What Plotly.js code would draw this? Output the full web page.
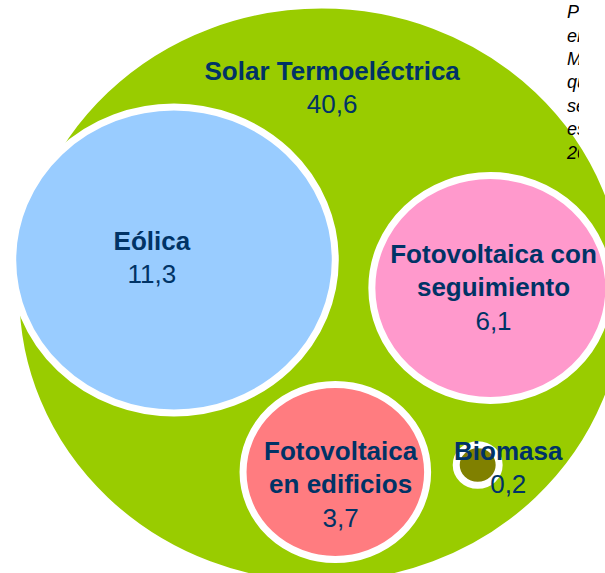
<!DOCTYPE html>
<html>
<head>
<meta charset="utf-8">
<script src="https://cdn.plot.ly/plotly-3.0.1.min.js"></script>
<style>
  html, body { margin: 0; padding: 0; background: #ffffff; overflow: hidden; }
  #chart { width: 605px; height: 573px; }
</style>
</head>
<body>
<div id="chart"></div>
<script>
// ---- data ----
const categories = ['Solar Termoeléctrica', 'Eólica', 'Fotovoltaica con seguimiento', 'Fotovoltaica en edificios', 'Biomasa'];
const labelLines = ['Solar Termoeléctrica', 'Eólica', 'Fotovoltaica con<br>seguimiento', 'Fotovoltaica<br>en edificios', 'Biomasa'];
const values = [40.6, 11.3, 6.1, 3.7, 0.2];
const noteLines = ['Potencia', 'en', 'MW', 'que', 'se', 'espera en', '2020'];

// ---- layout of the bubbles (positions, not data) ----
const centerX = [305, 165, 465, 318, 453];
const centerY = [295, 260, 288, 472, 465];
const labelX = [315, 144, 468, 323, 482];
const labelY = [90, 260, 290, 487, 470];

// ---- styles ----
const colors = ['#99cc00', '#99ccff', '#ff99cc', '#ff7c80', '#808000'];
const textColor = '#003366';
const fontFamily = 'Arial, "Liberation Sans", Helvetica, sans-serif';
const radiusScale = 45.5;   // radius = radiusScale * sqrt(value)  (area proportional to value)
const stretch = 1.0545;     // horizontal stretch of the original picture

const W = 605, H = 573;
const noteClip = 579;       // right edge of the note's text box (px)

const fmt = v => v.toFixed(1).replace('.', ',');

const shapes = values.map((v, i) => {
  const r = radiusScale * Math.sqrt(v);
  return {
    type: 'circle', xref: 'x', yref: 'y', layer: 'below',
    x0: centerX[i] - r, x1: centerX[i] + r,
    y0: centerY[i] - r, y1: centerY[i] + r,
    fillcolor: colors[i],
    line: { color: '#ffffff', width: 7 }
  };
});

const labels = {
  type: 'scatter',
  mode: 'text',
  x: labelX,
  y: labelY,
  text: values.map((v, i) => '<b>' + labelLines[i] + '</b><br>' + fmt(v)),
  customdata: categories,
  textposition: 'middle center',
  textfont: { family: fontFamily, size: 26, color: textColor },
  hoverinfo: 'skip',
  cliponaxis: false,
  showlegend: false
};

// note in the top-right corner, clipped by its own text box (second subplot)
const note = {
  type: 'scatter',
  mode: 'text',
  xaxis: 'x2', yaxis: 'y2',
  x: [567],
  y: [84],
  text: ['<i>' + noteLines.join('<br>') + '</i>'],
  textposition: 'middle right',
  textfont: { family: fontFamily, size: 18, color: '#000000' },
  hoverinfo: 'skip',
  cliponaxis: true,
  showlegend: false
};

const layout = {
  width: W, height: H,
  margin: { l: 0, r: 0, t: 0, b: 0, pad: 0 },
  paper_bgcolor: '#ffffff',
  plot_bgcolor: 'rgba(0,0,0,0)',
  showlegend: false,
  xaxis: { range: [0, W / stretch], visible: false, fixedrange: true, domain: [0, 1] },
  yaxis: { range: [H, 0], visible: false, fixedrange: true, domain: [0, 1] },
  xaxis2: { range: [0, noteClip], visible: false, fixedrange: true, domain: [0, noteClip / W], anchor: 'y2' },
  yaxis2: { range: [H, 0], visible: false, fixedrange: true, domain: [0, 1], anchor: 'x2' },
  shapes: shapes
};

Plotly.newPlot('chart', [labels, note], layout, { staticPlot: true, displayModeBar: false });
</script>
</body>
</html>
